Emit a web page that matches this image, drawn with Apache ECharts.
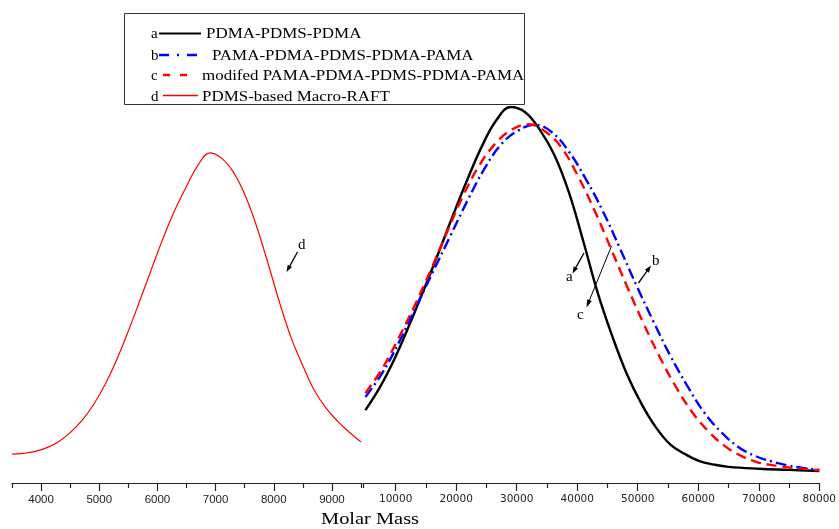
<!DOCTYPE html>
<html>
<head>
<meta charset="utf-8">
<script src="https://cdn.jsdelivr.net/npm/echarts@6/dist/echarts.min.js"></script>
<style>
html, body { margin: 0; padding: 0; background: #fff; }
#chart { width: 839px; height: 529px; }
</style>
</head>
<body>
<div id="chart"></div>
<script>
// Molar mass distributions (normalised intensity, % of the a-curve peak)

// d: PDMS-based Macro-RAFT (low-mass panel)
const macroMass = [3500, 3700, 3900, 4100, 4300, 4500, 4700, 4900, 5100, 5300, 5500, 5700, 5900, 6100, 6300, 6500, 6700, 6900, 7100, 7300, 7500, 7700, 7900, 8100, 8300, 8500, 8700, 8900, 9100, 9300, 9500];
const macroRaft = [7.7, 7.9, 8.4, 9.4, 11.0, 13.4, 16.6, 20.8, 26.2, 32.8, 40.4, 48.6, 57.0, 65.2, 72.6, 78.9, 84.6, 87.8, 86.4, 82.8, 76.8, 68.5, 58.5, 48.0, 38.6, 31.2, 24.6, 19.9, 16.4, 13.5, 10.9];

// a: PDMA-PDMS-PDMA
const triMass = [5000, 7400, 9800, 12200, 14600, 17000, 19400, 21800, 24200, 26600, 29000, 31400, 33800, 36200, 38600, 41000, 43400, 45800, 48200, 50600, 53000, 55400, 57800, 60200, 62600, 65000, 70000, 75000, 80000];
const triBlock = [19.4, 25.5, 33.0, 41.8, 51.2, 60.9, 70.9, 80.5, 89.4, 96.4, 100, 98.6, 94.0, 87.3, 77.4, 64.3, 50.5, 39.0, 29.0, 21.1, 14.8, 10.2, 7.7, 5.8, 4.9, 4.3, 3.8, 3.5, 3.2];

// b: PAMA-PDMA-PDMS-PDMA-PAMA
const pentaMass = [5000, 7800, 10600, 13400, 16200, 19000, 21800, 24600, 27400, 30200, 33000, 35800, 38600, 41400, 44200, 47000, 49800, 52600, 55400, 58200, 61000, 63800, 66600, 69400, 72200, 75000, 77800, 80000];
const pentaBlock = [22.9, 29.3, 37.6, 47.0, 56.3, 65.6, 74.9, 83.4, 90.0, 93.7, 95.3, 93.3, 88.2, 80.9, 72.4, 62.6, 52.5, 42.9, 33.8, 25.8, 18.7, 13.5, 9.6, 7.2, 5.7, 4.6, 3.9, 3.5];

// c: modified PAMA-PDMA-PDMS-PDMA-PAMA
const modMass = [5000, 7700, 10400, 13100, 15800, 18500, 21200, 23900, 26600, 29300, 32000, 34700, 37400, 40100, 42800, 45500, 48200, 50900, 53600, 56300, 59000, 61700, 64400, 67100, 69800, 72500, 75200, 77900, 80000];
const modBlock = [23.9, 30.2, 38.3, 47.1, 56.6, 66.8, 76.6, 84.7, 90.5, 94.1, 95.4, 93.5, 89.2, 81.7, 72.7, 62.6, 52.4, 42.6, 33.6, 25.6, 18.8, 13.7, 9.8, 7.2, 5.5, 4.7, 4.1, 3.7, 3.4];

// Axis ticks for the two panels of the broken mass axis
const leftLabels = [4000, 5000, 6000, 7000, 8000, 9000];
const leftMinor = [3500, 4500, 5500, 6500, 7500, 8500, 9500];
const rightLabels = [10000, 20000, 30000, 40000, 50000, 60000, 70000, 80000];
const rightMinor = [4600, 15000, 25000, 35000, 45000, 55000, 65000, 75000];

const legendRows = [
  { key: 'a', name: 'PDMA-PDMS-PDMA' },
  { key: 'b', name: 'PAMA-PDMA-PDMS-PDMA-PAMA' },
  { key: 'c', name: 'modifed PAMA-PDMA-PDMS-PDMA-PAMA' },
  { key: 'd', name: 'PDMS-based Macro-RAFT' }
];

const zip = (xs, ys) => xs.map((x, i) => [x, ys[i]]);

const axisColor = '#222';
const serif = '"Liberation Serif", "Times New Roman", serif';
const curveSmooth = 0.4;

function majorAxis(gridIndex, min, max, labels, font) {
  return {
    type: 'value', gridIndex, min, max, position: 'bottom',
    splitLine: { show: false },
    axisLine: { show: true, lineStyle: { color: axisColor, width: 1.2 } },
    axisTick: { show: true, inside: false, length: 8, customValues: labels, lineStyle: { color: axisColor, width: 1.2 } },
    axisLabel: { show: true, customValues: labels, margin: 11, color: axisColor, fontSize: font.size, fontFamily: font.family, formatter: v => String(v) }
  };
}
function minorAxis(gridIndex, min, max, ticks) {
  return {
    type: 'value', gridIndex, min, max, position: 'bottom',
    splitLine: { show: false },
    axisLine: { show: false },
    axisTick: { show: true, inside: false, length: 5, customValues: ticks, lineStyle: { color: axisColor, width: 1.2 } },
    axisLabel: { show: false }
  };
}

function arrow(x1, y1, x2, y2, w, hl, hw) {
  const dx = x2 - x1, dy = y2 - y1, L = Math.hypot(dx, dy);
  const ux = dx / L, uy = dy / L;
  const bx = x2 - ux * hl, by = y2 - uy * hl;
  const px = -uy, py = ux;
  return [
    { type: 'line', shape: { x1, y1, x2: bx, y2: by }, style: { stroke: '#000', lineWidth: w } },
    { type: 'polygon', shape: { points: [[x2, y2], [bx + px * hw / 2, by + py * hw / 2], [bx - px * hw / 2, by - py * hw / 2]] }, style: { fill: '#000' } }
  ];
}
function label(text, x, y, size, opts) {
  return Object.assign({
    type: 'text', x, y,
    style: { text, font: size + 'px ' + serif, fill: '#000', align: 'left', textAlign: 'left', verticalAlign: 'middle', textVerticalAlign: 'middle' }
  }, opts || {});
}

// Legend block
const rowY = [34, 56, 76, 97];
const sampleY = [33.5, 55, 75, 95.5];
const textX = [206, 212, 202, 202];
const samples = [
  { x1: 159, x2: 201, stroke: '#000', lineWidth: 2, lineDash: null },
  { x1: 159, x2: 197, stroke: '#0000ff', lineWidth: 2.4, lineDash: [10, 8, 2, 8] },
  { x1: 163, x2: 188, stroke: '#ff0000', lineWidth: 2.4, lineDash: [7, 10] },
  { x1: 163, x2: 198, stroke: '#ff0000', lineWidth: 1.6, lineDash: null }
];
const legendGraphic = [
  { type: 'rect', shape: { x: 124.5, y: 13.5, width: 400, height: 91 }, style: { fill: 'none', stroke: '#333', lineWidth: 1 } }
];
legendRows.forEach((row, i) => {
  legendGraphic.push(label(row.key, 151, rowY[i], 15));
  const s = samples[i];
  legendGraphic.push({ type: 'line', shape: { x1: s.x1, y1: sampleY[i], x2: s.x2, y2: sampleY[i] }, style: { stroke: s.stroke, lineWidth: s.lineWidth, lineDash: s.lineDash } });
  legendGraphic.push(label(row.name, textX[i], rowY[i], 15, { scaleX: 1.13 }));
});

// Curve call-outs
const calloutGraphic = [].concat(
  arrow(584, 253, 572.5, 273.5, 1.3, 7, 5),
  arrow(611.5, 246, 586.5, 307.5, 1, 8, 5),
  arrow(638.5, 283, 651, 265.5, 1.3, 7, 5),
  arrow(297.5, 252, 286.5, 272, 1.3, 7, 5),
  [
    label('a', 566, 277, 15),
    label('c', 577, 315, 15),
    label('b', 652, 261, 15),
    label('d', 298, 245, 15)
  ]
);

const titleGraphic = [
  { type: 'text', x: 370, y: 520, scaleX: 1.2,
    style: { text: 'Molar Mass', font: '17px ' + serif, fill: '#000', align: 'center', textAlign: 'center', verticalAlign: 'middle', textVerticalAlign: 'middle' } }
];

const chart = echarts.init(document.getElementById('chart'), null, { renderer: 'canvas' });
chart.setOption({
  animation: false,
  backgroundColor: '#fff',
  grid: [
    { left: 12, top: 107, width: 349, height: 376 },
    { left: 363, top: 107, width: 461, height: 376 }
  ],
  xAxis: [
    majorAxis(0, 3500, 9500, leftLabels, { size: 11.5, family: '"Liberation Sans Narrow", "Liberation Sans", Arial, sans-serif' }),
    minorAxis(0, 3500, 9500, leftMinor),
    majorAxis(1, 4600, 80000, rightLabels, { size: 10.5, family: '"DejaVu Sans", sans-serif' }),
    minorAxis(1, 4600, 80000, rightMinor)
  ],
  yAxis: [
    { type: 'value', gridIndex: 0, min: 0, max: 100, show: false },
    { type: 'value', gridIndex: 1, min: 0, max: 100, show: false }
  ],
  series: [
    { name: 'd', type: 'line', xAxisIndex: 0, yAxisIndex: 0, data: zip(macroMass, macroRaft), showSymbol: false, smooth: curveSmooth,
      lineStyle: { color: '#ff0000', width: 1.2 } },
    { name: 'a', type: 'line', xAxisIndex: 2, yAxisIndex: 1, data: zip(triMass, triBlock), showSymbol: false, smooth: curveSmooth,
      lineStyle: { color: '#000', width: 2.4 } },
    { name: 'b', type: 'line', xAxisIndex: 2, yAxisIndex: 1, data: zip(pentaMass, pentaBlock), showSymbol: false, smooth: curveSmooth,
      lineStyle: { color: '#0000ff', width: 2.4, type: [11, 4, 2, 4] } },
    { name: 'c', type: 'line', xAxisIndex: 2, yAxisIndex: 1, data: zip(modMass, modBlock), showSymbol: false, smooth: curveSmooth,
      lineStyle: { color: '#ff0000', width: 2.4, type: [10, 6] } }
  ],
  graphic: [].concat(legendGraphic, calloutGraphic, titleGraphic)
});
</script>
</body>
</html>
